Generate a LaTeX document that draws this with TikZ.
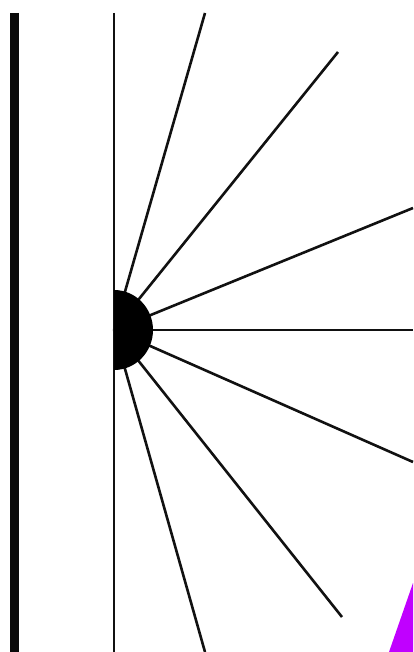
\documentclass[tikz,border=0pt]{standalone}
\usepackage{tikz}
\usepackage{xcolor}
\definecolor{raydark}{HTML}{111111}
\definecolor{wallblack}{HTML}{0A0A0A}
\definecolor{wedgepurple}{HTML}{C000FF}

\begin{document}
\begin{tikzpicture}[
    x=1pt, y=-1pt,
    wall/.style={
        draw=wallblack,
        line width=9pt
    },
    screen/.style={
        draw=raydark,
        line width=2pt
    },
    ray/.style={
        draw=raydark,
        line width=2.6pt
    },
    source/.style={
        fill=black
    },
    wedge/.style={
        fill=wedgepurple
    }
]

\useasboundingbox (0,0) rectangle (413,652);

% ==========================================
% WALL AND SCREEN
% ==========================================

\coordinate (wall_top) at (14.5,13);
\coordinate (wall_bot) at (14.5,652);
\draw[wall] (wall_top) -- (wall_bot);

\coordinate (screen_top) at (114,13);
\coordinate (screen_bot) at (114,652);
\draw[screen] (screen_top) -- (screen_bot);

% ==========================================
% RAYS FROM THE SOURCE
% ==========================================

\coordinate (src) at (114,330);

\foreach \ex/\ey [count=\i] in {205/13, 338/52, 413/208, 413/330,
                                413/462, 342/617, 205/652} {
    \coordinate (ray\i) at (\ex,\ey);
    \draw[ray] (src) -- (ray\i);
}

% ==========================================
% SOURCE (HALF DISK)
% ==========================================

\fill[source] (114,290) arc[start angle=90, end angle=-90,
    x radius=39, y radius=-40] -- cycle;

% ==========================================
% CORNER WEDGE
% ==========================================

\coordinate (wedge_a) at (389,652);
\coordinate (wedge_b) at (413,583);
\coordinate (wedge_c) at (413,652);
\fill[wedge] (wedge_a) -- (wedge_b) -- (wedge_c) -- cycle;

\end{tikzpicture}
\end{document}
